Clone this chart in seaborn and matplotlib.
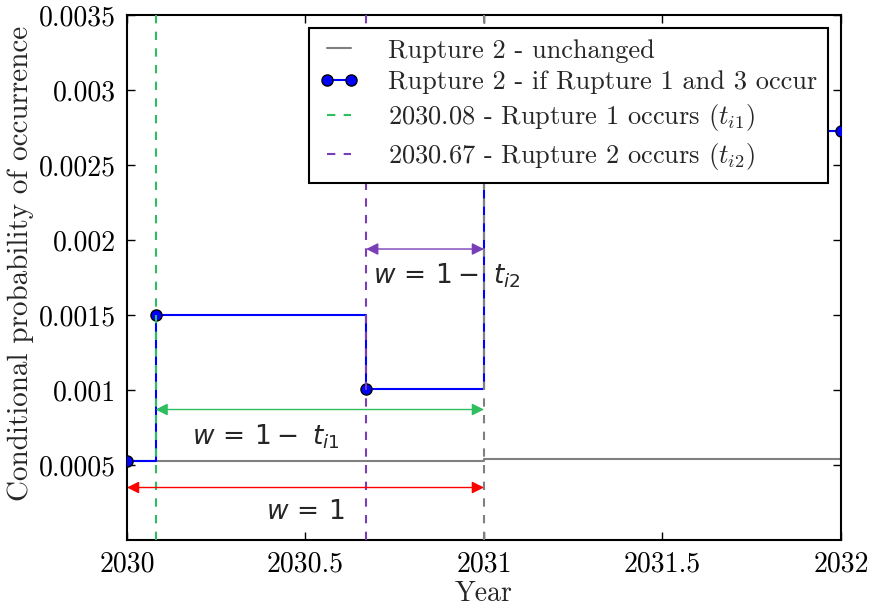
import matplotlib
matplotlib.use("Agg")
import matplotlib.pyplot as plt
import matplotlib.ticker as mticker
import seaborn as sns
import pandas as pd

# ---- data ----
years_unchanged = [2030.0, 2031.0, 2032.0]
prob_unchanged = [0.00053, 0.00054, 0.00054]

years_changed = [2030.0, 2030.08, 2030.67, 2031.0, 2032.0]
prob_changed = [0.00053, 0.0015, 0.00101, 0.00273, 0.00273]

t_i1 = 2030.08
t_i2 = 2030.67
year_end = 2031.0

labels = ["Rupture 2 - unchanged",
          "Rupture 2 - if Rupture 1 and 3 occur",
          "2030.08 - Rupture 1 occurs ($t_{i1}$)",
          "2030.67 - Rupture 2 occurs ($t_{i2}$)"]

yticks = [0.0005, 0.001, 0.0015, 0.002, 0.0025, 0.003, 0.0035]
xticks = [2030, 2030.5, 2031, 2031.5, 2032]

# ---- style ----
sns.set_style("ticks")
plt.rcParams["font.family"] = ["cmr10", "DejaVu Serif"]
plt.rcParams["mathtext.fontset"] = "cm"
plt.rcParams["axes.formatter.use_mathtext"] = True
plt.rcParams["font.size"] = 19

fig = plt.figure(figsize=(8.71, 6.06), dpi=100)
ax = fig.add_axes([0.1458, 0.1089, 0.8197, 0.8663])

df_u = pd.DataFrame({"year": years_unchanged, "p": prob_unchanged})
df_c = pd.DataFrame({"year": years_changed, "p": prob_changed})

sns.lineplot(data=df_u, x="year", y="p", ax=ax, color="#808080", lw=1.5,
             drawstyle="steps-post", errorbar=None, zorder=2)
sns.lineplot(data=df_c, x="year", y="p", ax=ax, color="#0000ff", lw=1.5,
             drawstyle="steps-post", errorbar=None, marker="o", markersize=8,
             markeredgecolor="black", markeredgewidth=1.0, zorder=3)

green = "#2ebd5f"
purple = "#7a3db8"
ax.axvline(t_i1, color=green, lw=1.5, ls=(0, (4, 4)), zorder=4)
ax.axvline(t_i2, color=purple, lw=1.5, ls=(0, (4, 4)), zorder=4)
ax.axvline(year_end, color="#808080", lw=1.5, ls=(0, (4, 4)), zorder=4)

def darrow(x0, x1, y, color):
    ax.annotate("", xy=(x1, y), xytext=(x0, y),
                arrowprops=dict(arrowstyle="<|-|>", color=color, lw=1.0,
                                shrinkA=0, shrinkB=0, mutation_scale=18),
                zorder=5)

darrow(2030.0, year_end, 0.00035, "#ff0000")
darrow(t_i1, year_end, 0.00087, green)
darrow(t_i2, year_end, 0.00194, purple)

ax.text(2030.5, 0.00019, r"$w\,=\,1$", ha="center", va="center", fontsize=19,
        math_fontfamily="dejavusans", zorder=1)
ax.text(2030.39, 0.00069, r"$w\,=\,1 -\ t_{i1}$", ha="center", va="center",
        fontsize=19, math_fontfamily="dejavusans", zorder=1)
ax.text(2030.69, 0.00176, r"$w\,=\,1 -\ t_{i2}$", ha="left", va="center",
        fontsize=19, math_fontfamily="dejavusans", zorder=1)

ax.set_xlim(2030, 2032)
ax.set_ylim(0, 0.0035)
ax.set_xticks(xticks)
ax.set_yticks(yticks)
ax.xaxis.set_major_formatter(mticker.FormatStrFormatter("%g"))
ax.yaxis.set_major_formatter(mticker.FormatStrFormatter("%g"))
ax.tick_params(direction="in", top=True, right=True, length=6, width=1,
               labelsize=20, pad=8, colors="black")
for s in ax.spines.values():
    s.set_color("black")
    s.set_linewidth(1.5)

ax.set_xlabel("Year", fontsize=20, labelpad=2)
ax.set_ylabel("Conditional probability of occurrence", fontsize=21)
ax.yaxis.set_label_coords(-0.130, 0.5276)

lines = ax.get_lines()
handles = [lines[0], lines[1], lines[2], lines[3]]
leg = ax.legend(handles, labels, loc="upper right", fontsize=19, numpoints=2,
                handlelength=1.5, handletextpad=1.1, labelspacing=0.3,
                borderpad=0.4, borderaxespad=0.5, fancybox=False,
                framealpha=1.0, edgecolor="black")
leg.get_frame().set_linewidth(1.5)
leg.set_zorder(10)

fig.savefig("out.png", dpi=100)
